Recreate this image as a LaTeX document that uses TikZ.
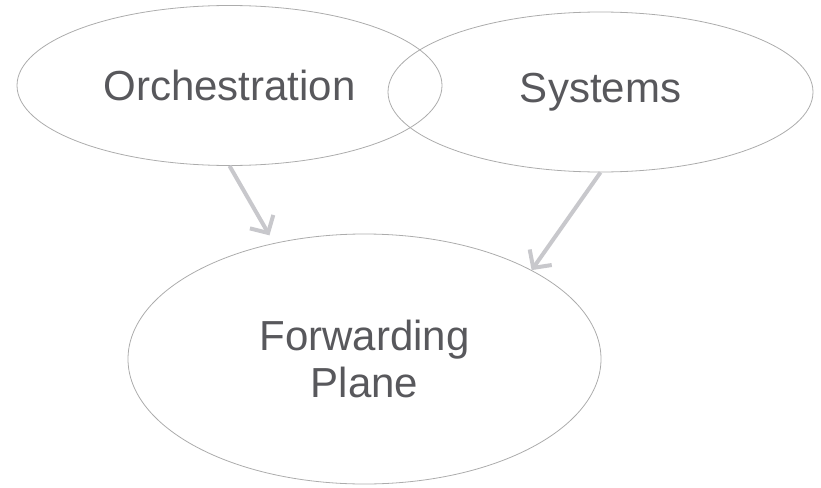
\documentclass[tikz,border=0pt]{standalone}
\usepackage{fontspec}
\setmainfont{Liberation Sans}
\usetikzlibrary{arrows.meta,shapes.geometric}
\definecolor{rim}{RGB}{172,172,172}
\definecolor{ink}{RGB}{88,88,92}
\definecolor{link}{RGB}{200,200,204}
\begin{document}
\begin{tikzpicture}[x=1pt,y=-1pt,
  bubble/.style={ellipse, draw=rim, line width=0.8pt, inner sep=0pt,
    text=ink, align=center, font=\fontsize{42}{46.6}\selectfont},
  feed/.style={draw=link, line width=4pt,
    -{Straight Barb[length=13pt, width=27pt, line width=4pt]}}]
\useasboundingbox (0,0) rectangle (821,487);

% the three ellipses
\node[bubble, minimum width=425pt, minimum height=160pt] (orch) at (229.5,85.5) {Orchestration};
\node[bubble, minimum width=425pt, minimum height=160pt] (sys) at (600.5,92) {Systems};
\node[bubble, minimum width=473pt, minimum height=250pt] (fwd) at (364.5,359) {Forwarding\\Plane};

% connectors into the forwarding plane
\draw[feed, shorten >=9pt] (orch.south) -- (fwd.128);
\draw[feed] (sys.south) -- (fwd.28);
\end{tikzpicture}
\end{document}
